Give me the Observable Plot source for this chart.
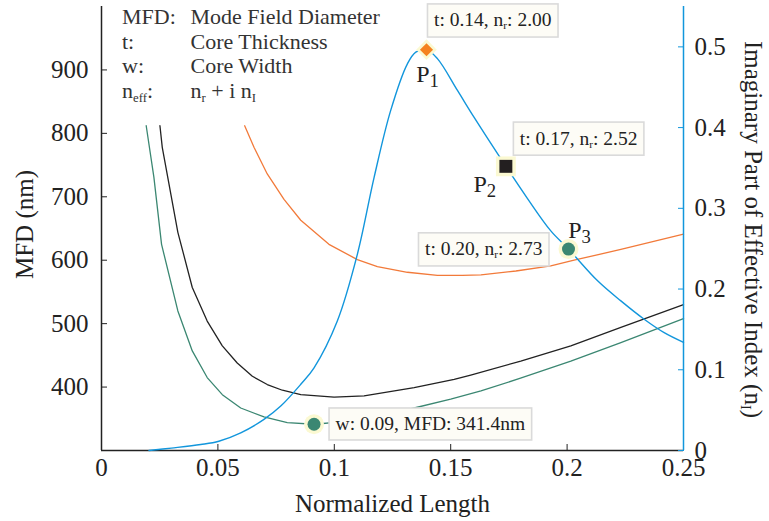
<!DOCTYPE html>
<html>
<head>
<meta charset="utf-8">
<script src="https://cdn.jsdelivr.net/npm/d3@7"></script>
<script src="https://cdn.jsdelivr.net/npm/@observablehq/plot@0.6"></script>
<style>
  body { margin: 0; background: #fff; }
  #chart { position: relative; width: 769px; height: 521px; }
  #chart svg { position: absolute; left: 0; top: 0; }
</style>
</head>
<body>
<div id="chart"></div>
<script>
// ---- Mode field diameter (left axis, nm) vs normalized length ----
const widthX   = [0.0192, 0.0225, 0.0258, 0.0328, 0.0390, 0.0454, 0.0519, 0.0598, 0.0698, 0.0798, 0.0913, 0.1056, 0.1200, 0.1343, 0.1500, 0.1630, 0.1800, 0.2016, 0.2231, 0.2500];
const widthMFD = [812, 731, 625, 520, 457, 415, 388, 367, 353, 344, 341.4, 346, 355, 367, 381, 394, 414, 441, 470, 508];

const lengthX   = [0.0251, 0.0261, 0.0328, 0.0390, 0.0454, 0.0519, 0.0583, 0.0648, 0.0712, 0.0777, 0.0856, 0.0999, 0.1128, 0.1343, 0.1515, 0.1586, 0.1801, 0.2016, 0.2231, 0.2500];
const lengthMFD = [812, 778, 644, 557, 504, 465, 438, 417, 404, 395, 388, 384, 386, 399, 412, 419, 441, 465, 494, 530];

const thickX   = [0.0615, 0.0655, 0.0712, 0.0784, 0.0856, 0.0977, 0.1099, 0.1185, 0.1314, 0.1443, 0.1550, 0.1630, 0.1780, 0.1930, 0.2030, 0.2231, 0.2500];
const thickMFD = [812, 778, 736, 696, 663, 625, 601, 590, 581, 576, 576, 577, 583, 591, 600, 617, 641];

// ---- Imaginary part of the effective index (right axis) ----
const thickNiX = [0.0204, 0.0300, 0.0426, 0.0504, 0.0598, 0.0698, 0.0770, 0.0856, 0.0913, 0.1013, 0.1099, 0.1171, 0.1242, 0.1314, 0.1350, 0.1396, 0.1443, 0.1529, 0.1600, 0.1737, 0.1830, 0.1930, 0.2006, 0.2131, 0.2231, 0.2331, 0.2417, 0.2500];
const thickNi  = [0.000, 0.003, 0.0074, 0.0115, 0.0219, 0.0385, 0.055, 0.082, 0.1025, 0.1605, 0.243, 0.3384, 0.421, 0.479, 0.4935, 0.4965, 0.4854, 0.446, 0.4129, 0.352, 0.312, 0.272, 0.2495, 0.2102, 0.1853, 0.1626, 0.146, 0.134];

// ---- Highlighted operating points ----
const pointNames = ["P_{1}", "P_{2}", "P_{3}"];
const pointT  = [0.1396, 0.1737, 0.2006];
const pointNi = [0.4965, 0.352, 0.2495];
const pointNr = [2.00, 2.52, 2.73];

const minW = 0.0913;
const minMFD = 341.4;

// ---- Axes ----
const xTicks   = [0, 0.05, 0.1, 0.15, 0.2, 0.25];
const mfdTicks = [400, 500, 600, 700, 800, 900];
const niTicks  = [0, 0.1, 0.2, 0.3, 0.4, 0.5];
const xDomain = [0, 0.25];
const mfdDomain = [300, 1000];
const niDomain = [0, 0.55];

const xTitle = "Normalized Length";
const mfdTitle = "MFD (nm)";
const niTitle = "Imaginary Part of Effective Index (n_{I})";

// ---- Key ----
const keyTerms = ["MFD:", "t:", "w:", "n_{eff}:"];
const keyMeanings = ["Mode Field Diameter", "Core Thickness", "Core Width", "n_{r} + i n_{I}"];

// ---- Styling ----
const ink = "#222", keyInk = "#333";
const blue = "#1296dc", orange = "#f27a3a", teal = "#3b8772", halo = "#fbf9d2";
const font = "'Liberation Serif', 'Times New Roman', serif";
const tickFont = 25, titleFont = 25, keyFont = 22, noteFont = 19.5, nameFont = 24;
const pointStyle = [
  {symbol: "diamond2", r: 5.9, haloR: 9.3, fill: "#f5821f", name: {dx: 1, dy: 32}, note: {dx: 7.5, dy: -29.5, textAnchor: "start"}},
  {symbol: "square",   r: 7.3, haloR: 11.2, fill: "#231f20", name: {dx: -21, dy: 26}, note: {dx: 14, dy: -28, textAnchor: "start"}},
  {symbol: "circle",   r: 6.5, haloR: 10,   fill: teal,      name: {dx: 11, dy: -11}, note: {dx: -26, dy: 0, textAnchor: "end"}}
];

const rows = (xs, ys) => xs.map((x, i) => ({x, y: ys[i]}));
const points = pointNames.map((name, i) => ({
  name, t: pointT[i], ni: pointNi[i], nr: pointNr[i],
  note: `t: ${pointT[i].toFixed(2)}, n_{r}: ${pointNr[i].toFixed(2)}`
}));
const minPoint = {w: minW, mfd: minMFD, note: `w: ${minW.toFixed(2)}, MFD: ${minMFD.toFixed(1)}nm`};
const noteTexts = [...points.map(p => p.note), minPoint.note];

const frame = {
  width: 769, height: 521,
  marginLeft: 101, marginRight: 86, marginTop: 6, marginBottom: 71,
  style: {fontFamily: font, fontSize: "22px", color: ink, background: "transparent", overflow: "visible"}
};

const left = Plot.plot({
  ...frame,
  x: {domain: xDomain},
  y: {domain: mfdDomain},
  marks: [
    Plot.ruleX([0], {stroke: ink, strokeWidth: 1.5}),
    Plot.ruleY([mfdDomain[0]], {stroke: ink, strokeWidth: 1.5}),
    Plot.axisX({ticks: xTicks, tickSize: -6, tickPadding: 14, label: null, fontSize: tickFont, stroke: ink, fill: ink, tickFormat: d => String(d)}),
    Plot.axisY({ticks: mfdTicks, tickSize: -6, tickPadding: 19, label: null, fontSize: tickFont, stroke: ink, fill: ink, tickFormat: d => String(d)}),
    Plot.line(rows(thickX, thickMFD), {x: "x", y: "y", stroke: orange, strokeWidth: 1.3}),
    Plot.line(rows(widthX, widthMFD), {x: "x", y: "y", stroke: teal, strokeWidth: 1.3}),
    Plot.line(rows(lengthX, lengthMFD), {x: "x", y: "y", stroke: ink, strokeWidth: 1.3}),
    Plot.dot([minPoint], {x: "w", y: "mfd", r: 10, fill: halo}),
    Plot.dot([minPoint], {x: "w", y: "mfd", r: 6.5, fill: teal}),
    Plot.text([minPoint], {x: "w", y: "mfd", text: "note", dx: 21.5, textAnchor: "start", lineAnchor: "middle", fontSize: noteFont, fill: ink}),
    Plot.text([keyTerms.join("\n")], {text: d => d, frameAnchor: "top-left", dx: 20.5, dy: 0, lineAnchor: "top", lineHeight: 1.12, textAnchor: "start", fill: keyInk, fontSize: keyFont}),
    Plot.text([keyMeanings.join("\n")], {text: d => d, frameAnchor: "top-left", dx: 89, dy: 0, lineAnchor: "top", lineHeight: 1.12, textAnchor: "start", fill: keyInk, fontSize: keyFont}),
    Plot.text([mfdTitle], {text: d => d, frameAnchor: "left", dx: -77, dy: -4, rotate: -90, textAnchor: "middle", lineAnchor: "middle", fill: ink, fontSize: titleFont}),
    Plot.text([xTitle], {text: d => d, frameAnchor: "bottom", dy: 53, textAnchor: "middle", lineAnchor: "middle", fill: ink, fontSize: titleFont})
  ]
});

const right = Plot.plot({
  ...frame,
  x: {domain: xDomain, axis: null},
  y: {domain: niDomain},
  marks: [
    Plot.ruleX([xDomain[1]], {stroke: blue, strokeWidth: 1.5}),
    Plot.axisY({anchor: "right", ticks: niTicks, tickSize: -6, tickPadding: 17, label: null, fontSize: tickFont, stroke: blue, fill: ink, tickFormat: d => String(d)}),
    Plot.line(rows(thickNiX, thickNi), {x: "x", y: "y", stroke: blue, strokeWidth: 1.4, curve: "catmull-rom"}),
    ...points.flatMap((p, i) => {
      const s = pointStyle[i];
      return [
        Plot.dot([p], {x: "t", y: "ni", symbol: s.symbol, r: s.haloR, fill: halo}),
        Plot.dot([p], {x: "t", y: "ni", symbol: s.symbol, r: s.r, fill: s.fill}),
        Plot.text([p], {x: "t", y: "ni", text: "name", dx: s.name.dx, dy: s.name.dy, lineAnchor: "bottom", fontSize: nameFont, fill: ink}),
        Plot.text([p], {x: "t", y: "ni", text: "note", dx: s.note.dx, dy: s.note.dy, textAnchor: s.note.textAnchor, lineAnchor: "middle", fontSize: noteFont, fill: ink})
      ];
    }),
    Plot.text([niTitle], {text: d => d, frameAnchor: "right", dx: 69, dy: 1, rotate: 90, textAnchor: "middle", lineAnchor: "middle", fill: ink, fontSize: titleFont})
  ]
});

const chart = document.getElementById("chart");
chart.append(left, right);

// Mark the value call-outs (matched on their raw text) so they get a framed box.
function tagNotes(svg) {
  svg.querySelectorAll("text").forEach(text => {
    if (noteTexts.includes(text.textContent)) text.dataset.note = "1";
  });
}
tagNotes(left);
tagNotes(right);

// Turn "_{...}" markup into subscript tspans.
function applySubscripts(root) {
  const ns = "http://www.w3.org/2000/svg";
  root.querySelectorAll("text, tspan").forEach(el => {
    [...el.childNodes].forEach(node => {
      if (node.nodeType !== 3 || !node.nodeValue.includes("_{")) return;
      const size = parseFloat(getComputedStyle(el).fontSize);
      const parts = node.nodeValue.split(/_\{([^}]*)\}/);
      const frag = document.createDocumentFragment();
      parts.forEach((part, i) => {
        if (!part) return;
        if (i % 2) {
          const digit = /^\d+$/.test(part);
          const t = document.createElementNS(ns, "tspan");
          t.style.fontSize = `${size * (digit ? 0.78 : 0.58)}px`;
          t.setAttribute("baseline-shift", `${-size * (digit ? 0.2 : 0.16)}px`);
          t.textContent = part;
          frag.append(t);
        } else {
          frag.append(document.createTextNode(part));
        }
      });
      el.replaceChild(frag, node);
    });
  });
}
applySubscripts(left);
applySubscripts(right);

function drawBoxes(svg) {
  const ns = "http://www.w3.org/2000/svg";
  svg.querySelectorAll("text[data-note]").forEach(text => {
    const b = text.getBBox();
    const padX = 6.5, padY = 5.5;
    const rect = document.createElementNS(ns, "rect");
    rect.setAttribute("x", b.x - padX);
    rect.setAttribute("y", b.y - padY);
    rect.setAttribute("width", b.width + 2 * padX);
    rect.setAttribute("height", b.height + 2 * padY);
    rect.setAttribute("fill", "#fdfcf6");
    rect.setAttribute("stroke", "#dadada");
    rect.setAttribute("stroke-width", 1.6);
    if (text.getAttribute("transform")) rect.setAttribute("transform", text.getAttribute("transform"));
    text.parentNode.insertBefore(rect, text);
  });
}
drawBoxes(left);
drawBoxes(right);
</script>
</body>
</html>
